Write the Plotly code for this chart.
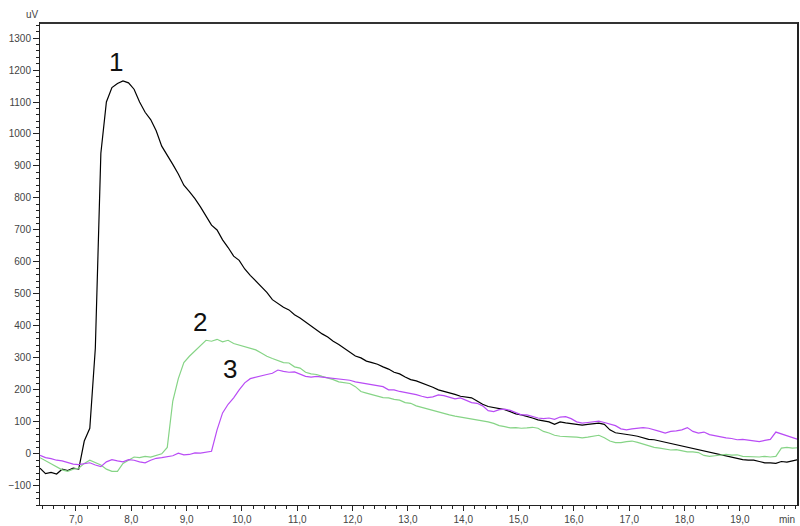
import plotly.graph_objects as go
import numpy as np

# sampling times (min)
t_start, t_step, n_pts = 6.35, 0.1, 138
time_min = np.round(t_start + t_step * np.arange(n_pts), 2)

curve1 = [-45, -62, -58, -63, -48, -52, -45, -48, 40, 80, 330, 940, 1100, 1145, 1158, 1166, 1160, 1140,
          1100, 1068, 1045, 1010, 962, 935, 905, 875, 840, 820, 798, 772, 745, 715, 700, 669, 645, 618,
          605, 578, 558, 540, 525, 505, 482, 470, 458, 450, 435, 425, 412, 400, 388, 375, 365, 352,
          342, 330, 318, 306, 300, 290, 285, 280, 272, 265, 255, 250, 240, 232, 228, 222, 215, 208,
          200, 196, 190, 186, 180, 178, 175, 165, 155, 148, 145, 142, 138, 132, 125, 122, 118, 112,
          106, 104, 100, 92, 100, 97, 95, 92, 90, 92, 95, 96, 92, 75, 66, 64, 62, 58, 55, 50,
          45, 44, 40, 36, 33, 28, 25, 20, 18, 12, 8, 6, 2, -4, -8, -10, -14, -18, -20, -20,
          -24, -28, -28, -30, -24, -26, -22, -18]

curve2 = [-12, -22, -30, -42, -50, -55, -48, -45, -30, -20, -28, -35, -48, -55, -55, -30, -20, -10,
          -12, -8, -10, -5, 0, 20, 165, 235, 285, 305, 322, 340, 355, 352, 358, 350, 355, 345,
          340, 335, 330, 325, 315, 305, 298, 292, 285, 284, 272, 268, 255, 250, 248, 242, 238, 232,
          225, 222, 220, 210, 195, 190, 185, 180, 176, 175, 170, 168, 160, 158, 150, 145, 140, 135,
          130, 125, 122, 118, 115, 112, 110, 105, 102, 100, 95, 88, 85, 81, 82, 80, 81, 83,
          80, 70, 65, 58, 55, 55, 53, 52, 50, 52, 55, 58, 50, 40, 35, 35, 38, 40, 36, 30,
          24, 20, 18, 14, 12, 13, 10, 6, 6, 4, -5, -8, -6, -3, -2, -4, -3, -8, -9, -8,
          -10, -8, -10, -8, 18, 20, 18, 19]

curve3 = [-5, -12, -15, -20, -22, -28, -32, -34, -30, -28, -35, -40, -25, -18, -22, -25, -18, -20,
          -25, -28, -20, -14, -12, -10, -6, 2, -3, -2, 3, 2, 6, 8, 75, 128, 155, 175,
          200, 222, 235, 240, 245, 248, 252, 262, 258, 255, 256, 250, 242, 240, 242, 240, 238, 236,
          232, 232, 230, 225, 222, 220, 216, 215, 210, 200, 200, 195, 192, 190, 185, 180, 176, 178,
          184, 182, 176, 172, 175, 168, 160, 158, 150, 135, 132, 138, 140, 136, 128, 122, 122, 116,
          112, 110, 112, 108, 115, 116, 110, 100, 96, 98, 100, 102, 98, 92, 88, 78, 75, 78,
          80, 82, 80, 74, 70, 65, 70, 72, 75, 82, 70, 65, 68, 60, 56, 52, 50, 48, 44, 45,
          42, 40, 38, 42, 45, 68, 62, 58, 52, 45]

x_tick_vals = [7, 8, 9, 10, 11, 12, 13, 14, 15, 16, 17, 18, 19]
x_tick_text = ["7,0", "8,0", "9,0", "10,0", "11,0", "12,0", "13,0", "14,0", "15,0", "16,0", "17,0", "18,0", "19,0"]
y_tick_vals = [-100, 0, 100, 200, 300, 400, 500, 600, 700, 800, 900, 1000, 1100, 1200, 1300]

peak_labels = ["1", "2", "3"]
peak_x = [7.72, 9.25, 9.79]
peak_y = [1225, 412, 265]

fig = go.Figure()
fig.add_trace(go.Scatter(x=time_min, y=curve1, mode="lines", line=dict(color="#000000", width=1.2)))
fig.add_trace(go.Scatter(x=time_min, y=curve2, mode="lines", line=dict(color="#86d486", width=1.2)))
fig.add_trace(go.Scatter(x=time_min, y=curve3, mode="lines", line=dict(color="#b94cf5", width=1.2)))

for lab, px, py in zip(peak_labels, peak_x, peak_y):
    fig.add_annotation(x=px, y=py, text=lab, showarrow=False,
                       font=dict(family="Liberation Sans", size=26, color="#111111"))

fig.add_annotation(xref="paper", yref="paper", x=1, y=0, xanchor="right", yanchor="top",
                   xshift=-1, yshift=-7, text="min", showarrow=False,
                   font=dict(family="Liberation Sans", size=10, color="#444444"))
fig.add_annotation(xref="paper", yref="paper", x=0, y=1, xanchor="right", yanchor="bottom",
                   xshift=1, yshift=1, text="uV", showarrow=False,
                   font=dict(family="Liberation Sans", size=10, color="#444444"))

# heavier top/right frame like the reference
fig.add_shape(type="line", xref="paper", yref="paper", x0=0, x1=1, y0=1, y1=1,
              line=dict(color="#333333", width=2))
fig.add_shape(type="line", xref="paper", yref="paper", x0=1, x1=1, y0=0, y1=1,
              line=dict(color="#222222", width=2))

fig.update_layout(
    width=800, height=526,
    margin=dict(l=40, r=2, t=23, b=21),
    paper_bgcolor="white", plot_bgcolor="white",
    showlegend=False,
    font=dict(family="Liberation Sans", size=10, color="#444444"),
)
fig.update_xaxes(range=[6.35, 20.05], tickvals=x_tick_vals, ticktext=x_tick_text,
                 showgrid=False, zeroline=False, showline=True, linecolor="#222222", linewidth=1,
                 mirror=True, ticks="outside", ticklen=5, tickcolor="#222222",
                 minor=dict(dtick=0.2, tick0=7, ticks="outside", ticklen=3, tickcolor="#222222"))
fig.update_yaxes(range=[-160, 1347], tickvals=y_tick_vals,
                 showgrid=False, zeroline=False, showline=True, linecolor="#222222", linewidth=1,
                 mirror=True, ticks="outside", ticklen=6, tickcolor="#222222",
                 minor=dict(dtick=20, tick0=0, ticks="outside", ticklen=3, tickcolor="#222222"))

fig.write_html("out.html")
